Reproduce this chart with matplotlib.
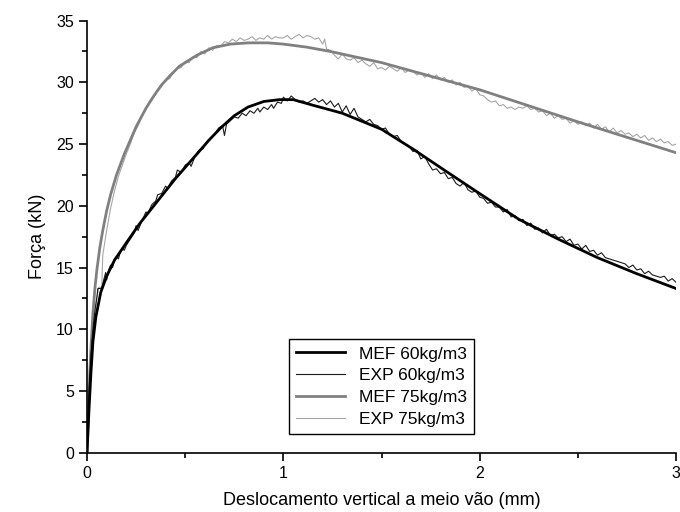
import matplotlib
matplotlib.use("Agg")
import matplotlib.pyplot as plt
from matplotlib.ticker import MultipleLocator

plt.rcParams["font.family"] = ["Liberation Sans", "DejaVu Sans"]

# MEF 60 kg/m3 (modelo numérico)
mef60_x = [0, 0.01, 0.02, 0.03, 0.045, 0.07, 0.1, 0.14, 0.2, 0.27, 0.35, 0.45, 0.56,
           0.62, 0.68, 0.75, 0.82, 0.9, 0.98, 1.05, 1.15, 1.3, 1.5, 1.66, 1.8, 1.97,
           2.2, 2.4, 2.6, 2.8, 3.0]
mef60_y = [0, 3.5, 6.5, 9.0, 11.0, 13.0, 14.3, 15.6, 17.0, 18.6, 20.2, 22.2, 24.2,
           25.3, 26.3, 27.3, 28.0, 28.45, 28.6, 28.6, 28.15, 27.5, 26.2, 24.6, 23.1, 21.3,
           18.9, 17.3, 15.8, 14.5, 13.3]

# EXP 60 kg/m3 (ensaio)
exp60_x = [0, 0.005, 0.01, 0.02, 0.03, 0.04, 0.05, 0.055, 0.075, 0.085, 0.095, 0.10,
           0.11, 0.12, 0.13, 0.14, 0.15, 0.16, 0.17, 0.18, 0.19, 0.20, 0.22, 0.24, 0.25,
           0.26, 0.28, 0.30, 0.31, 0.33, 0.35, 0.36, 0.38, 0.40, 0.41, 0.43, 0.45, 0.46,
           0.48, 0.50, 0.52, 0.53, 0.55, 0.57, 0.59, 0.61, 0.63, 0.65, 0.67, 0.69, 0.70,
           0.71, 0.73, 0.75, 0.77, 0.79, 0.81, 0.83, 0.85, 0.87, 0.88, 0.90, 0.92, 0.94,
           0.95, 0.97, 0.99, 1.00, 1.02, 1.04, 1.06, 1.08, 1.10, 1.12, 1.14, 1.16, 1.18,
           1.20, 1.22, 1.24, 1.26, 1.28, 1.30, 1.32, 1.34, 1.36, 1.38, 1.40, 1.42, 1.44,
           1.46, 1.48, 1.50, 1.52, 1.54, 1.56, 1.58, 1.60, 1.62, 1.64, 1.66, 1.68, 1.70,
           1.72, 1.74, 1.76, 1.78, 1.80, 1.82, 1.84, 1.86, 1.88, 1.90, 1.92, 1.94, 1.96,
           1.98, 2.00, 2.02, 2.04, 2.06, 2.08, 2.10, 2.12, 2.14, 2.16, 2.18, 2.20, 2.22,
           2.24, 2.26, 2.28, 2.30, 2.32, 2.34, 2.36, 2.38, 2.40, 2.42, 2.44, 2.46, 2.48,
           2.50, 2.52, 2.54, 2.56, 2.58, 2.60, 2.62, 2.64, 2.66, 2.68, 2.70, 2.72, 2.74,
           2.76, 2.78, 2.80, 2.82, 2.84, 2.86, 2.88, 2.90, 2.92, 2.94, 2.96, 2.98, 3.00]
exp60_y = [0, 2.5, 5.0, 8.0, 10.0, 11.5, 12.6, 13.3, 13.3, 14.0, 14.6, 14.0,
           14.8, 15.2, 15.0, 15.7, 15.9, 15.7, 16.3, 16.5, 16.4, 16.8, 17.3, 17.8, 18.4,
           18.0, 18.8, 19.5, 19.4, 20.1, 20.4, 20.9, 21.0, 21.6, 21.4, 22.0, 22.3, 22.9,
           22.7, 23.3, 23.5, 23.2, 24.0, 24.5, 24.6, 25.2, 25.5, 25.8, 26.3, 26.5, 25.7,
           26.6, 26.9, 27.2, 27.1, 27.5, 27.3, 27.7, 27.5, 27.9, 27.6, 28.0, 27.8, 28.2,
           27.9, 28.4, 28.3, 28.8, 28.5, 28.9, 28.6, 28.4, 28.5, 28.3, 28.5, 28.7, 28.4,
           28.6, 28.2, 28.5, 28.0, 28.3, 27.6, 28.1, 27.4, 27.9, 27.2, 27.0, 26.8, 27.0,
           26.6, 26.5, 26.2, 26.3, 25.8, 25.6, 25.7, 25.2, 25.0, 24.8, 24.4, 24.5, 23.8,
           24.0, 23.4, 22.9, 23.0, 22.6, 22.7, 22.2, 22.3, 21.8, 21.6, 21.9, 21.3, 21.1,
           21.2, 20.7, 20.6, 20.2, 20.3, 19.9, 19.9, 19.5, 19.7, 19.1, 19.2, 18.8, 18.9,
           18.4, 18.6, 18.1, 18.2, 17.8, 18.1, 17.6, 17.7, 17.4, 17.5, 17.1, 17.3, 16.8,
           16.9, 16.5, 16.8, 16.3, 16.4, 16.0, 16.2, 15.8, 15.7, 15.6, 15.5, 15.4, 15.3,
           15.0, 15.2, 14.8, 14.9, 14.5, 14.7, 14.4, 14.3, 14.2, 14.3, 13.9, 14.1, 13.8]

# MEF 75 kg/m3
mef75_x = [0, 0.01, 0.02, 0.03, 0.04, 0.05, 0.065, 0.08, 0.1, 0.12, 0.15, 0.19, 0.25,
           0.30, 0.34, 0.38, 0.42, 0.47, 0.56, 0.64, 0.73, 0.82, 0.92, 1.0, 1.12, 1.24,
           1.37, 1.5, 1.75, 2.0, 2.25, 2.5, 2.75, 3.0]
mef75_y = [0, 5.0, 8.5, 11.3, 13.3, 14.8, 16.6, 18.0, 19.6, 20.9, 22.5, 24.2, 26.4,
           27.9, 28.9, 29.8, 30.5, 31.3, 32.2, 32.8, 33.1, 33.2, 33.2, 33.1, 32.85, 32.5,
           32.05, 31.6, 30.5, 29.4, 28.1, 26.8, 25.55, 24.3]

# EXP 75 kg/m3
exp75_x = [0, 0.005, 0.01, 0.02, 0.03, 0.04, 0.05, 0.06, 0.075, 0.08, 0.10, 0.12, 0.14,
           0.16, 0.18, 0.20, 0.22, 0.24, 0.26, 0.28, 0.30, 0.32, 0.34, 0.36, 0.38, 0.40,
           0.42, 0.44, 0.46, 0.48, 0.50, 0.52, 0.54, 0.56, 0.58, 0.60, 0.62, 0.64, 0.66,
           0.68, 0.70, 0.72, 0.74, 0.76, 0.78, 0.80, 0.82, 0.84, 0.86, 0.88, 0.90, 0.92,
           0.94, 0.96, 0.98, 1.00, 1.02, 1.04, 1.06, 1.08, 1.10, 1.12, 1.14, 1.16, 1.18,
           1.20, 1.21, 1.22, 1.24, 1.26, 1.28, 1.30, 1.32, 1.34, 1.36, 1.38, 1.40, 1.42,
           1.44, 1.46, 1.48, 1.50, 1.52, 1.54, 1.56, 1.58, 1.60, 1.62, 1.64, 1.66, 1.68,
           1.70, 1.72, 1.74, 1.76, 1.78, 1.80, 1.82, 1.84, 1.86, 1.88, 1.90, 1.92, 1.94,
           1.96, 1.98, 2.00, 2.02, 2.04, 2.06, 2.08, 2.10, 2.12, 2.14, 2.16, 2.18, 2.20,
           2.22, 2.24, 2.26, 2.28, 2.30, 2.32, 2.34, 2.36, 2.38, 2.40, 2.42, 2.44, 2.46,
           2.48, 2.50, 2.52, 2.54, 2.56, 2.58, 2.60, 2.62, 2.64, 2.66, 2.68, 2.70, 2.72,
           2.74, 2.76, 2.78, 2.80, 2.82, 2.84, 2.86, 2.88, 2.90, 2.92, 2.94, 2.96, 2.98,
           3.00]
exp75_y = [0, 2.0, 4.0, 7.0, 9.5, 11.2, 12.5, 13.4, 13.4, 16.0, 18.0, 19.8, 21.2,
           22.4, 23.3, 24.2, 25.0, 25.9, 26.5, 27.3, 27.8, 28.5, 28.8, 29.4, 29.7, 30.2,
           30.3, 30.8, 31.1, 31.2, 31.7, 31.6, 32.1, 32.0, 32.5, 32.3, 32.8, 32.6, 33.0,
           32.9, 33.3, 33.2, 33.5, 33.3, 33.6, 33.4, 33.5, 33.7, 33.4, 33.6, 33.5, 33.8,
           33.5, 33.7, 33.6, 33.6, 33.8, 33.5, 33.7, 33.9, 33.6, 33.8, 33.7, 33.5, 33.6,
           33.1, 33.5, 32.7, 32.6, 32.2, 31.9, 32.3, 31.9, 31.8, 32.0, 31.6, 31.8, 31.5,
           31.3, 31.6, 31.1, 31.2, 31.0, 31.3, 31.1, 30.9, 31.2, 30.8, 31.0, 30.9, 30.6,
           30.8, 30.4, 30.7, 30.3, 30.6, 30.2, 30.4, 30.0, 30.2, 29.8, 30.0, 29.6, 29.7,
           29.3, 29.5, 29.0, 28.9, 28.6, 28.4, 28.5, 28.1, 28.2, 27.9, 28.0, 27.8, 28.0,
           27.9, 28.1, 27.8, 27.9, 27.6, 27.7, 27.3, 27.5, 27.1, 27.3, 27.0, 27.1, 26.7,
           26.9, 26.6, 26.8, 26.5, 26.7, 26.3, 26.6, 26.2, 26.4, 26.0, 26.3, 25.9, 26.1,
           25.8, 25.9, 25.6, 25.8, 25.5, 25.7, 25.3, 25.5, 25.2, 25.4, 25.1, 25.2, 24.9,
           25.0]

fig = plt.figure(figsize=(6.8, 5.12), dpi=100)
ax = fig.add_axes([0.128, 0.1158, 0.8662, 0.8439])

ax.plot(mef60_x, mef60_y, color="black", lw=2.0, label="MEF 60kg/m3", zorder=4)
ax.plot(exp60_x, exp60_y, color="#1a1a1a", lw=0.8, label="EXP 60kg/m3", zorder=3)
ax.plot(mef75_x, mef75_y, color="#808080", lw=2.0, label="MEF 75kg/m3", zorder=2)
ax.plot(exp75_x, exp75_y, color="#a6a6a6", lw=0.8, label="EXP 75kg/m3", zorder=1)

ax.set_xlim(0, 3)
ax.set_ylim(0, 35)
ax.xaxis.set_major_locator(MultipleLocator(1))
ax.xaxis.set_minor_locator(MultipleLocator(0.5))
ax.yaxis.set_major_locator(MultipleLocator(5))
ax.yaxis.set_minor_locator(MultipleLocator(2.5))
ax.tick_params(which="major", direction="out", length=6, width=1.2, labelsize=11.5)
ax.tick_params(which="minor", direction="out", length=3.5, width=1.2)
for s in ("top", "right"):
    ax.spines[s].set_visible(False)
for s in ("left", "bottom"):
    ax.spines[s].set_linewidth(1.2)

ax.set_xlabel("Deslocamento vertical a meio vão (mm)", fontsize=13, labelpad=8)
ax.set_ylabel("Força (kN)", fontsize=13, labelpad=7)

leg = ax.legend(loc="center", bbox_to_anchor=(0.5, 0.153), fontsize=12.5,
                fancybox=False, framealpha=1, edgecolor="black",
                handlelength=2.8, labelspacing=0.38, borderpad=0.4)
leg.get_frame().set_linewidth(1.0)

fig.savefig("out.png", dpi=100)
